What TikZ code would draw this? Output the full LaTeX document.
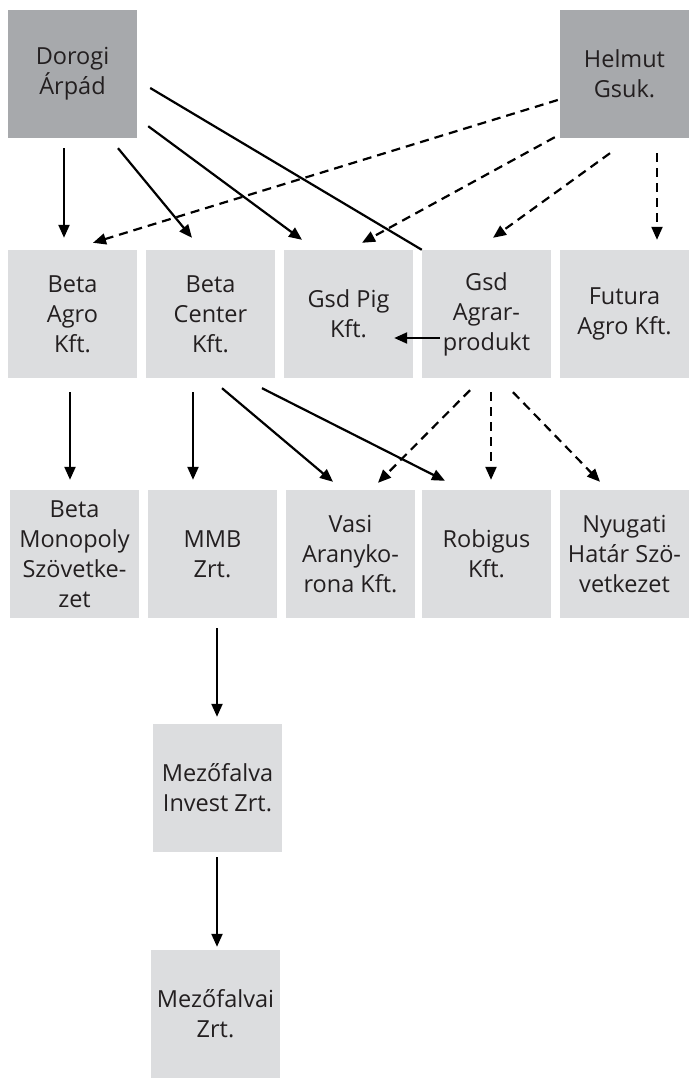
\documentclass[tikz,border=0pt]{standalone}
\usepackage{fontspec}
\setmainfont{Open Sans}
\usetikzlibrary{arrows.meta}
\definecolor{darkbox}{HTML}{A7A9AC}
\definecolor{lightbox}{HTML}{DCDDDF}
\definecolor{ink}{HTML}{231F20}
\begin{document}
\begin{tikzpicture}[x=1pt,y=-1pt,
  box/.style={minimum width=129pt,minimum height=128pt,inner sep=0pt,align=center,text=ink,
    font=\fontsize{23.5}{30}\selectfont},
  owner/.style={box,fill=darkbox},
  firm/.style={box,fill=lightbox},
  link/.style={line width=2.2pt,draw=black,-{Triangle[length=13pt,width=11pt]}},
  plain/.style={line width=2.2pt,draw=black},
  dlink/.style={link,dash pattern=on 9pt off 6pt}]
\useasboundingbox (0,0) rectangle (690,1078);
% top row
\node[owner] (dorogi) at (72.5,74) {Dorogi\\Árpád};
\node[owner] (helmut) at (624.5,74) {Helmut\\Gsuk.};
% second row
\node[firm] (betaagro) at (72.5,314) {Beta\\Agro\\Kft.};
\node[firm] (betacenter) at (210.5,314) {Beta\\Center\\Kft.};
\node[firm] (gsdpig) at (348.5,314) {Gsd Pig\\Kft.};
\node[firm] (gsdagrar) at (486.5,314) {Gsd\\Agrar-\\produkt};
\node[firm] (futura) at (624.5,314) {Futura\\Agro Kft.};
% third row
\node[firm] (betamono) at (74.5,554) {Beta\\Monopoly\\Szövetke-\\zet};
\node[firm] (mmb) at (212.5,554) {MMB\\Zrt.};
\node[firm] (vasi) at (350.5,554) {Vasi\\Aranyko-\\rona Kft.};
\node[firm] (robigus) at (486.5,554) {Robigus\\Kft.};
\node[firm] (nyugati) at (624.5,554) {Nyugati\\Határ Szö-\\vetkezet};
% lower
\node[firm] (mezinv) at (217.5,788) {Mezőfalva\\Invest Zrt.};
\node[firm] (mezai) at (215.5,1014) {Mezőfalvai\\Zrt.};
% connectors from Dorogi
\draw[link] ([shift={(-8.5,10)}]dorogi.south) -- ([shift={(-8.5,-12)}]betaagro.north);
\draw[link] ([shift={(45.5,10)}]dorogi.south) -- ([shift={(-18.5,-12)}]betacenter.north);
\draw[link] ([shift={(11,-12)}]dorogi.south east) -- ([shift={(-46.5,-10)}]gsdpig.north);
\draw[plain] ([shift={(13,14)}]dorogi.east) -- (gsdagrar.north west);
% connectors from Helmut
\draw[dlink] ([shift={(-2,26)}]helmut.west) -- ([shift={(20.5,-7)}]betaagro.north);
\draw[dlink] ([shift={(-5,-1)}]helmut.south west) -- ([shift={(13.5,-7)}]gsdpig.north);
\draw[dlink] ([shift={(-14.5,15)}]helmut.south) -- ([shift={(6.5,-12)}]gsdagrar.north);
\draw[dlink] ([shift={(32.5,15)}]helmut.south) -- ([shift={(32.5,-10)}]futura.north);
% Gsd Agrar -> Gsd Pig
\draw[link] ([shift={(18,24)}]gsdagrar.west) -- ([shift={(-19,24)}]gsdpig.east);
% second row to third row
\draw[link] ([shift={(-2.5,14)}]betaagro.south) -- ([shift={(-4.5,-10)}]betamono.north);
\draw[link] ([shift={(-17.5,14)}]betacenter.south) -- ([shift={(-19.5,-10)}]mmb.north);
\draw[link] ([shift={(11.5,10)}]betacenter.south) -- ([shift={(-17.5,-8)}]vasi.north);
\draw[link] ([shift={(51.5,10)}]betacenter.south) -- ([shift={(-41.5,-9)}]robigus.north);
\draw[dlink] ([shift={(-16.5,12)}]gsdagrar.south) -- ([shift={(27.5,-7)}]vasi.north);
\draw[dlink] ([shift={(4.5,14)}]gsdagrar.south) -- ([shift={(4.5,-10)}]robigus.north);
\draw[dlink] ([shift={(26.5,14)}]gsdagrar.south) -- ([shift={(-24.5,-8)}]nyugati.north);
% lower chain
\draw[link] ([shift={(4.5,10)}]mmb.south) -- ([shift={(-0.5,-7)}]mezinv.north);
\draw[link] ([shift={(-0.5,5)}]mezinv.south) -- ([shift={(1.5,-3)}]mezai.north);
\end{tikzpicture}
\end{document}
